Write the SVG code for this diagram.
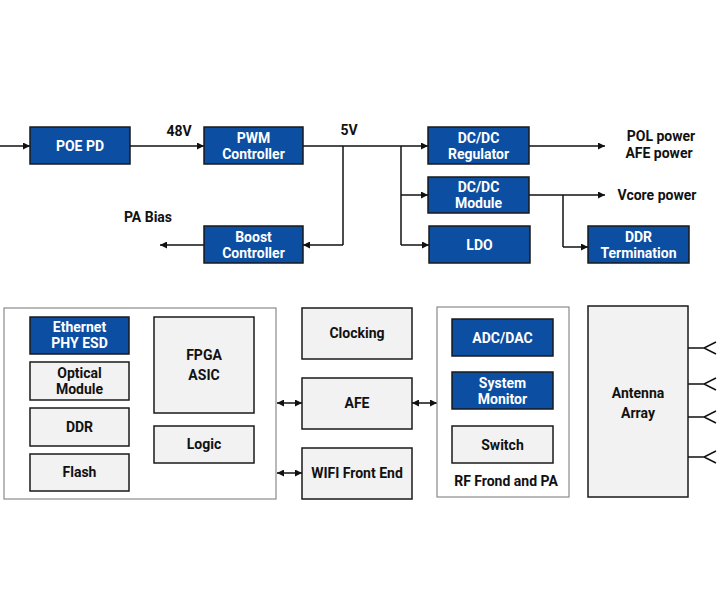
<svg xmlns="http://www.w3.org/2000/svg" width="720" height="600" viewBox="0 0 720 600">
<defs>
<marker id="ah" viewBox="0 0 10 10" refX="10" refY="5" markerWidth="7" markerHeight="7" markerUnits="userSpaceOnUse" orient="auto-start-reverse">
<path d="M0,0 L10,5 L0,10 z" fill="#111"/>
</marker>
<style>
.b{fill:#0b4ea2;stroke:#1a1a1a;stroke-width:1.5}
.g{fill:#f2f2f2;stroke:#1a1a1a;stroke-width:1.5}
.o{fill:#fff;stroke:#8a8a8a;stroke-width:1.2}
.ln{fill:none;stroke:#111;stroke-width:1.5}
.a{fill:none;stroke:#111;stroke-width:1.5;marker-end:url(#ah)}
.d{fill:none;stroke:#111;stroke-width:1.5;marker-end:url(#ah);marker-start:url(#ah)}
text{font-family:Roboto,"Liberation Sans",sans-serif;font-weight:bold;font-size:14px;text-anchor:middle}
.w{fill:#fff}
.k{fill:#111}
</style>
</defs>
<rect width="720" height="600" fill="#fff"/>

<g id="connectors">
<path class="a" d="M0,146 H30"/>
<path class="a" d="M130,146 H204"/>
<path class="ln" d="M303,146 H401"/>
<path class="ln" d="M343,146 V245"/>
<path class="a" d="M343,245 H303"/>
<path class="a" d="M204,245 H160"/>
<path class="a" d="M401,146 H428"/>
<path class="ln" d="M401,146 V245"/>
<path class="a" d="M401,195 H428"/>
<path class="a" d="M401,245 H429"/>
<path class="a" d="M529,146 H605"/>
<path class="a" d="M529,195 H605"/>
<path class="ln" d="M563,195 V247"/>
<path class="a" d="M563,247 H588"/>
<path class="d" d="M277,403 H302"/>
<path class="d" d="M277,473 H302"/>
<path class="d" d="M412,403 H437"/>
<path class="ln" d="M688,348 H705 M716,342 L704,348 L716,354"/>
<path class="ln" d="M688,384 H705 M716,378 L704,384 L716,390"/>
<path class="ln" d="M688,417 H705 M716,411 L704,417 L716,423"/>
<path class="ln" d="M688,457 H705 M716,451 L704,457 L716,463"/>
</g>

<g id="labels">
<text class="k" x="179" y="136">48V</text>
<text class="k" x="349" y="135">5V</text>
<text class="k" x="148" y="222">PA Bias</text>
<text class="k" x="661" y="141">POL power</text>
<text class="k" x="659" y="158">AFE power</text>
<text class="k" x="657" y="200">Vcore power</text>
</g>

<g id="poe-pd"><rect class="b" x="30" y="127" width="100" height="37"/><text class="w" x="80" y="151">POE PD</text></g>
<g id="pwm-controller"><rect class="b" x="204" y="127" width="99" height="37"/><text class="w" x="253.5" y="143">PWM</text><text class="w" x="253.5" y="159">Controller</text></g>
<g id="boost-controller"><rect class="b" x="204" y="226" width="99" height="37"/><text class="w" x="253.5" y="242">Boost</text><text class="w" x="253.5" y="258">Controller</text></g>
<g id="dcdc-regulator"><rect class="b" x="428" y="127" width="101" height="37"/><text class="w" x="478.5" y="143">DC/DC</text><text class="w" x="478.5" y="159">Regulator</text></g>
<g id="dcdc-module"><rect class="b" x="428" y="177" width="101" height="36"/><text class="w" x="478.5" y="192">DC/DC</text><text class="w" x="478.5" y="208">Module</text></g>
<g id="ldo"><rect class="b" x="429" y="226" width="101" height="37"/><text class="w" x="479.5" y="250">LDO</text></g>
<g id="ddr-termination"><rect class="b" x="588" y="226" width="101" height="37"/><text class="w" x="638.5" y="242">DDR</text><text class="w" x="638.5" y="258">Termination</text></g>

<g id="digital-group">
<rect class="o" x="4" y="308" width="272" height="191"/>
<g id="ethernet-phy-esd"><rect class="b" x="30" y="317" width="99" height="37"/><text class="w" x="79.5" y="332">Ethernet</text><text class="w" x="79.5" y="348">PHY ESD</text></g>
<g id="optical-module"><rect class="g" x="30" y="362" width="99" height="38"/><text class="k" x="79.5" y="378">Optical</text><text class="k" x="79.5" y="394">Module</text></g>
<g id="ddr"><rect class="g" x="30" y="408" width="99" height="38"/><text class="k" x="79.5" y="432">DDR</text></g>
<g id="flash"><rect class="g" x="30" y="454" width="99" height="37"/><text class="k" x="79.5" y="477">Flash</text></g>
<g id="fpga-asic"><rect class="g" x="154" y="317" width="100" height="96"/><text class="k" x="204" y="360">FPGA</text><text class="k" x="204" y="380">ASIC</text></g>
<g id="logic"><rect class="g" x="154" y="426" width="100" height="37"/><text class="k" x="204" y="449">Logic</text></g>
</g>

<g id="clocking"><rect class="g" x="302" y="308" width="110" height="51"/><text class="k" x="357" y="338">Clocking</text></g>
<g id="afe"><rect class="g" x="302" y="378" width="110" height="51"/><text class="k" x="357" y="408">AFE</text></g>
<g id="wifi-front-end"><rect class="g" x="302" y="448" width="110" height="51"/><text class="k" x="357" y="478">WIFI Front End</text></g>

<g id="rf-front-and-pa">
<rect class="o" x="437" y="307" width="132" height="190"/>
<g id="adc-dac"><rect class="b" x="452" y="319" width="101" height="37"/><text class="w" x="502.5" y="343">ADC/DAC</text></g>
<g id="system-monitor"><rect class="b" x="452" y="372" width="101" height="37"/><text class="w" x="502.5" y="388">System</text><text class="w" x="502.5" y="404">Monitor</text></g>
<g id="switch"><rect class="g" x="452" y="426" width="101" height="37"/><text class="k" x="502.5" y="450">Switch</text></g>
<text class="k" x="506" y="486">RF Frond and PA</text>
</g>

<g id="antenna-array"><rect class="g" x="588" y="306" width="100" height="191"/><text class="k" x="638" y="398">Antenna</text><text class="k" x="638" y="418">Array</text></g>
</svg>
